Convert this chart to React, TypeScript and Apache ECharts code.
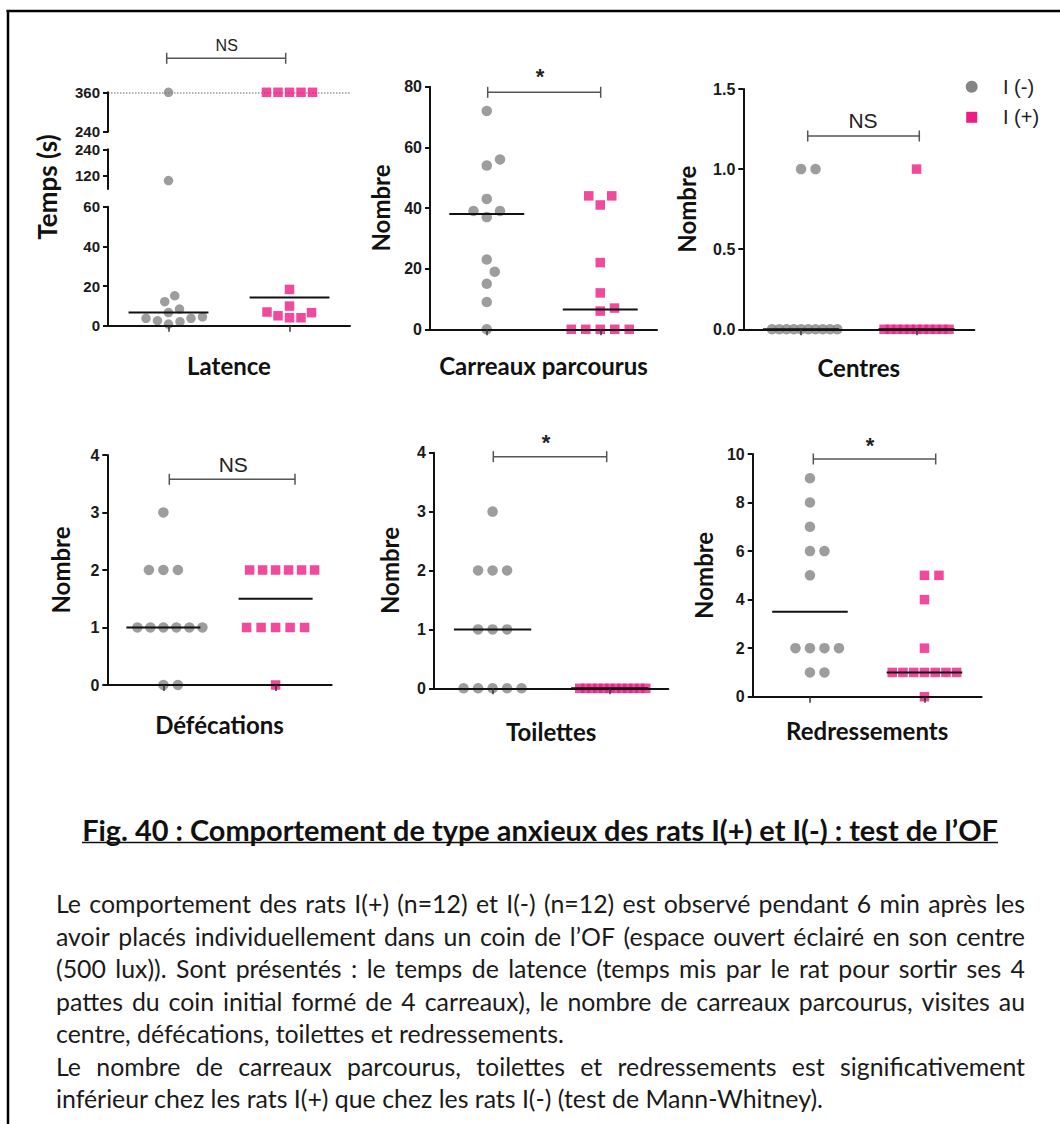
import React, { useEffect, useRef } from "react";
import * as echarts from "echarts";

// ---------------- data ----------------
const groupNames = ["I (-)", "I (+)"];
const categoryPositions = [1, 2];

const latenceNeg = [360, 98, 15.1, 12.1, 8.4, 6.6, 4.5, 3.7, 3.7, 2.5, 2.0, 0.8];
const latencePos = [360, 360, 360, 360, 360, 18.3, 9.9, 6.9, 6.6, 5.0, 4.0, 4.0];
const latenceMedians = [6.6, 14.2];
const latenceSegments = [
  [0, 60],
  [60, 240],
  [240, 360],
];

const carreauxNeg = [72, 56, 54, 43, 39, 39, 37, 23, 19, 15, 9, 0];
const carreauxPos = [44, 44, 41, 22, 12, 7, 6, 0, 0, 0, 0, 0];
const carreauxMedians = [38, 6.5];

const centresNeg = [1, 1, 0, 0, 0, 0, 0, 0, 0, 0, 0, 0];
const centresPos = [1, 0, 0, 0, 0, 0, 0, 0, 0, 0, 0, 0];
const centresMedians = [0, 0];

const defecNeg = [3, 2, 2, 2, 1, 1, 1, 1, 1, 1, 0, 0];
const defecPos = [2, 2, 2, 2, 2, 2, 1, 1, 1, 1, 1, 0];
const defecMedians = [1, 1.5];

const toilNeg = [3, 2, 2, 2, 1, 1, 1, 0, 0, 0, 0, 0];
const toilPos = [0, 0, 0, 0, 0, 0, 0, 0, 0, 0, 0, 0];
const toilMedians = [1, 0];

const redrNeg = [9, 8, 7, 6, 6, 5, 2, 2, 2, 2, 1, 1];
const redrPos = [5, 5, 4, 2, 1, 1, 1, 1, 1, 1, 1, 0];
const redrMedians = [3.5, 1];

const captionTitle =
  "Fig. 40 : Comportement de type anxieux des rats I(+) et I(-) : test de l’OF";
const captionLines = [
  "Le comportement des rats I(+) (n=12) et I(-) (n=12) est observé pendant 6 min après les",
  "avoir placés individuellement dans un coin de l’OF (espace ouvert éclairé en son centre",
  "(500 lux)). Sont présentés : le temps de latence (temps mis par le rat pour sortir ses 4",
  "pattes du coin initial formé de 4 carreaux), le nombre de carreaux parcourus, visites au",
  "centre, défécations, toilettes et redressements.",
  "Le nombre de carreaux parcourus, toilettes et redressements est significativement",
  "inférieur chez les rats I(+) que chez les rats I(-) (test de Mann-Whitney).",
];
const captionJustified = [true, true, true, true, false, true, false];

// ---------------- styles / layout ----------------
const COLORS = ["#858585", "#ee1d85"];
const AX_FONT = "'Liberation Sans', Arial, sans-serif";
const TXT_FONT = "Lato, 'Noto Sans', sans-serif";
const NAME_SIZE = 24;

type Rect = { left: number; top: number; width: number; height: number };

const latenceLayout = {
  left: 108,
  width: 242,
  segRects: [
    { top: 206.7, height: 119 },
    { top: 149.3, height: 39.7 },
    { top: 92.3, height: 39.4 },
  ],
  segTicks: [null, [120, 240], null] as (number[] | null)[],
  segInterval: [20, 60, 120],
};

const PANELS = [
  {
    title: "Carreaux parcourus", neg: carreauxNeg, pos: carreauxPos, med: carreauxMedians,
    min: 0, max: 80, interval: 20, decimals: 0,
    rect: { left: 430, top: 86.7, width: 227, height: 242.6 }, yNameGap: 38, xNameGap: 24,
    sig: "*", bracket: { x1: 487.7, x2: 600.7, y: 92.3 }, sigPos: { x: 540, y: 76.5 },
  },
  {
    title: "Centres", neg: centresNeg, pos: centresPos, med: centresMedians,
    min: 0, max: 1.5, interval: 0.5, decimals: 1,
    rect: { left: 743.3, top: 89, width: 231, height: 240.3 }, yNameGap: 45, xNameGap: 26,
    sig: "NS", bracket: { x1: 807.7, x2: 919.3, y: 136 }, sigPos: { x: 863, y: 120 },
  },
  {
    title: "Défécations", neg: defecNeg, pos: defecPos, med: defecMedians,
    min: 0, max: 4, interval: 1, decimals: 0,
    rect: { left: 107.3, top: 455, width: 224.4, height: 230 }, yNameGap: 35, xNameGap: 27,
    sig: "NS", bracket: { x1: 169.3, x2: 295, y: 479.3 }, sigPos: { x: 233.3, y: 464 },
  },
  {
    title: "Toilettes", neg: toilNeg, pos: toilPos, med: toilMedians,
    min: 0, max: 4, interval: 1, decimals: 0,
    rect: { left: 434, top: 452.7, width: 234.3, height: 235.6 }, yNameGap: 33, xNameGap: 31,
    sig: "*", bracket: { x1: 493.3, x2: 606.7, y: 456.7 }, sigPos: { x: 546, y: 442 },
  },
  {
    title: "Redressements", neg: redrNeg, pos: redrPos, med: redrMedians,
    min: 0, max: 10, interval: 2, decimals: 0,
    rect: { left: 752.7, top: 454, width: 229, height: 242.7 }, yNameGap: 37, xNameGap: 22,
    sig: "*", bracket: { x1: 813.3, x2: 935.7, y: 459 }, sigPos: { x: 870, y: 445 },
  },
];

// beeswarm layout in pixel space (offsets in px)
function swarm(pys: number[], D: number, maxRow: number): number[] {
  const n = pys.length;
  const idx = pys.map((_, i) => i).sort((a, b) => pys[b] - pys[a]);
  const counts = new Map<number, number>();
  pys.forEach((p) => {
    const k = Math.round(p * 100);
    counts.set(k, (counts.get(k) || 0) + 1);
  });
  const placed: { x: number; y: number; key: number }[] = [];
  const out = new Array(n).fill(0);
  for (const i of idx) {
    const y = pys[i];
    const key = Math.round(y * 100);
    const k = counts.get(key)!;
    const rowS = k > 1 ? Math.min(D, maxRow / (k - 1)) : D;
    for (let step = 0; step < 800; step++) {
      const mag = Math.ceil(step / 2) * 0.25;
      const x = step % 2 === 1 ? mag : -mag;
      const ok = placed.every((p) => {
        const need = p.key === key ? rowS : D;
        return Math.hypot(p.x - x, p.y - y) >= need - 1e-6;
      });
      if (ok) {
        out[i] = x;
        placed.push({ x, y, key });
        break;
      }
    }
  }
  return out;
}

function buildOption() {
  const grids: any[] = [];
  const xAxes: any[] = [];
  const yAxes: any[] = [];
  const series: any[] = [];
  const graphics: any[] = [];

  const nameStyle = { fontFamily: TXT_FONT, fontSize: NAME_SIZE, fontWeight: "bold", color: "#111" };

  function addAxes(rect: Rect, y: any, x: any) {
    const gi = grids.length;
    grids.push({ left: rect.left, top: rect.top, width: rect.width, height: rect.height });
    const xa: any = {
      gridIndex: gi, type: "value", min: 0.5, max: 2.5, show: x.show,
      axisLine: { show: true, onZero: false, lineStyle: { color: "#111", width: 2 } },
      axisTick: { show: true, customValues: categoryPositions, length: 6, lineStyle: { color: "#333", width: 1.5 } },
      axisLabel: { show: false },
      splitLine: { show: false },
      z: 5,
    };
    if (x.name) {
      xa.name = x.name;
      xa.nameLocation = "middle";
      xa.nameGap = x.nameGap;
      xa.nameTextStyle = nameStyle;
    }
    xAxes.push(xa);
    const ya: any = {
      gridIndex: gi, type: "value", min: y.min, max: y.max, interval: y.interval,
      axisLine: { show: true, onZero: false, lineStyle: { color: "#111", width: 2 } },
      axisTick: { show: true, length: 5, lineStyle: { color: "#111", width: 2 } },
      axisLabel: {
        fontFamily: AX_FONT, fontWeight: "bold", fontSize: y.fontSize, color: "#1a1a1a", margin: 8,
        formatter: (v: number) => v.toFixed(y.decimals),
      },
      splitLine: { show: false },
      z: 5,
    };
    if (y.custom) {
      ya.axisTick.customValues = y.custom;
      ya.axisLabel.customValues = y.custom;
    }
    if (y.name) {
      ya.name = y.name;
      ya.nameLocation = "middle";
      ya.nameGap = y.nameGap;
      ya.nameRotate = 90;
      ya.nameTextStyle = nameStyle;
    }
    yAxes.push(ya);
    return gi;
  }

  function medianSeries(gi: number, c: number, m: number) {
    series.push({
      type: "line", xAxisIndex: gi, yAxisIndex: gi, symbol: "none", silent: true, clip: false, z: 4,
      lineStyle: { color: "#111", width: 2 },
      data: [[c - 0.33, m], [c + 0.33, m]],
    });
  }

  function bracket(b: { x1: number; x2: number; y: number }, label: string, pos: { x: number; y: number }, size: number, bold: boolean) {
    const st = { stroke: "#555", lineWidth: 1.5 };
    graphics.push({ type: "line", shape: { x1: b.x1, y1: b.y, x2: b.x2, y2: b.y }, style: st });
    graphics.push({ type: "line", shape: { x1: b.x1, y1: b.y - 5.5, x2: b.x1, y2: b.y + 5.5 }, style: st });
    graphics.push({ type: "line", shape: { x1: b.x2, y1: b.y - 5.5, x2: b.x2, y2: b.y + 5.5 }, style: st });
    graphics.push({
      type: "text", x: pos.x, y: pos.y,
      style: {
        text: label, fontFamily: AX_FONT, fontSize: size, fontWeight: bold ? "bold" : "normal",
        fill: "#222", align: "center", verticalAlign: "middle", textAlign: "center", textVerticalAlign: "middle",
      },
    });
  }

  // ---- Latence (broken axis: 3 segments) ----
  const L = latenceLayout;
  const segGi: number[] = [];
  latenceSegments.forEach((seg, s) => {
    const r = { left: L.left, width: L.width, top: L.segRects[s].top, height: L.segRects[s].height };
    const gi = addAxes(
      r,
      { min: seg[0], max: seg[1], interval: L.segInterval[s], custom: L.segTicks[s], decimals: 0, fontSize: 15 },
      s === 0 ? { show: true, name: "Latence", nameGap: 28 } : { show: false }
    );
    segGi.push(gi);
  });
  const segOf = (v: number) => (v <= 60 ? 0 : v <= 240 ? 1 : 2);
  const latPx = (v: number) => {
    const s = segOf(v);
    const seg = latenceSegments[s];
    const r = L.segRects[s];
    return r.top + (r.height * (seg[1] - v)) / (seg[1] - seg[0]);
  };
  [latenceNeg, latencePos].forEach((vals, g) => {
    const offs = swarm(vals.map(latPx), 11.5, 46);
    for (let s = 0; s < 3; s++) {
      const pts = vals
        .map((v, i) => [categoryPositions[g] + (offs[i] * 2) / L.width, v, s === segOf(v)])
        .filter((p) => p[2])
        .map((p) => [p[0], p[1]]);
      if (!pts.length && !(g === 0 && s === 2)) continue;
      const ser: any = {
        type: "scatter", name: groupNames[g], xAxisIndex: segGi[s], yAxisIndex: segGi[s],
        symbol: g === 0 ? "circle" : "rect", symbolSize: 9.5, clip: false, z: 3,
        itemStyle: { color: COLORS[g] }, data: pts,
      };
      if (g === 0 && s === 2) {
        ser.markLine = {
          silent: true, symbol: "none", label: { show: false }, z: 1,
          lineStyle: { type: "dotted", color: "#999", width: 1.5 },
          data: [{ yAxis: 360 }],
        };
      }
      series.push(ser);
    }
    medianSeries(segGi[0], categoryPositions[g], latenceMedians[g]);
  });
  bracket({ x1: 166.7, x2: 285.7, y: 58.3 }, "NS", { x: 226.7, y: 45 }, 16, false);
  graphics.push({
    type: "text", x: 47, y: 187, rotation: Math.PI / 2,
    style: {
      text: "Temps (s)", fontFamily: TXT_FONT, fontSize: 26, fontWeight: "bold", fill: "#111",
      align: "center", verticalAlign: "middle", textAlign: "center", textVerticalAlign: "middle",
    },
  });

  // ---- other panels ----
  PANELS.forEach((p) => {
    const gi = addAxes(
      p.rect,
      { min: p.min, max: p.max, interval: p.interval, decimals: p.decimals, fontSize: 16, name: "Nombre", nameGap: p.yNameGap },
      { show: true, name: p.title, nameGap: p.xNameGap }
    );
    const pyOf = (v: number) => p.rect.top + (p.rect.height * (p.max - v)) / (p.max - p.min);
    [p.neg, p.pos].forEach((vals, g) => {
      const offs = swarm(vals.map(pyOf), 14.5, 64);
      series.push({
        type: "scatter", name: groupNames[g], xAxisIndex: gi, yAxisIndex: gi,
        symbol: g === 0 ? "circle" : "rect", symbolSize: g === 0 ? 10.5 : 9.5, clip: false, z: 3,
        itemStyle: { color: COLORS[g] },
        data: vals.map((v, i) => [categoryPositions[g] + (offs[i] * 2) / p.rect.width, v]),
      });
      medianSeries(gi, categoryPositions[g], p.med[g]);
    });
    bracket(p.bracket, p.sig, p.sigPos, p.sig === "*" ? 22 : 21, p.sig === "*");
  });

  // ---- legend ----
  graphics.push({ type: "circle", shape: { cx: 971.7, cy: 86.7, r: 6 }, style: { fill: COLORS[0] } });
  graphics.push({ type: "rect", shape: { x: 966.2, y: 111.8, width: 11, height: 11 }, style: { fill: COLORS[1] } });
  groupNames.forEach((n, i) => {
    graphics.push({
      type: "text", x: 1003, y: 86.7 + i * 30.6,
      style: { text: n, fontFamily: AX_FONT, fontSize: 20, fill: "#222", align: "left", verticalAlign: "middle", textAlign: "left", textVerticalAlign: "middle" },
    });
  });

  // ---- frame ----
  graphics.push({ type: "line", shape: { x1: 6.5, y1: 11, x2: 1060, y2: 11 }, style: { stroke: "#000", lineWidth: 2.5 } });
  graphics.push({ type: "line", shape: { x1: 8, y1: 10, x2: 8, y2: 1124 }, style: { stroke: "#000", lineWidth: 2.5 } });

  // ---- caption ----
  const ctx = document.createElement("canvas").getContext("2d")!;
  const measure = (t: string, size: number, weight: string) => {
    ctx.font = `${weight} ${size}px Lato`;
    return ctx.measureText(t).width;
  };
  const titleSize = (24 * 916) / measure(captionTitle, 24, "bold");
  graphics.push({
    type: "text", x: 540, y: 829,
    style: {
      text: captionTitle, fontFamily: "Lato", fontSize: titleSize, fontWeight: "bold", fill: "#111",
      align: "center", verticalAlign: "middle", textAlign: "center", textVerticalAlign: "middle",
    },
  });
  graphics.push({ type: "line", shape: { x1: 82, y1: 842.5, x2: 998, y2: 842.5 }, style: { stroke: "#111", lineWidth: 1.5 } });

  const bodySize = (20 * 768) / measure(captionLines[6], 20, "normal");
  const bodyLeft = 56;
  const bodyWidth = 969;
  captionLines.forEach((line, li) => {
    const y = 903 + li * 32.5;
    const baseStyle = { fontFamily: "Lato", fontSize: bodySize, fill: "#1a1a1a", align: "left", verticalAlign: "middle", textAlign: "left", textVerticalAlign: "middle" };
    if (!captionJustified[li]) {
      graphics.push({ type: "text", x: bodyLeft, y, style: { ...baseStyle, text: line } });
      return;
    }
    const words = line.split(" ");
    const widths = words.map((w) => measure(w, bodySize, "normal"));
    const total = widths.reduce((a, b) => a + b, 0);
    const gap = (bodyWidth - total) / (words.length - 1);
    let cx = bodyLeft;
    words.forEach((w, wi) => {
      graphics.push({ type: "text", x: cx, y, style: { ...baseStyle, text: w } });
      cx += widths[wi] + gap;
    });
  });

  return {
    animation: false,
    backgroundColor: "#ffffff",
    grid: grids,
    xAxis: xAxes,
    yAxis: yAxes,
    series,
    graphic: graphics,
  };
}

export default function App() {
  const ref = useRef<HTMLDivElement>(null);
  useEffect(() => {
    document.body.style.margin = "0";
    if (!ref.current) return;
    const chart = echarts.init(ref.current, undefined, { renderer: "svg" });
    chart.setOption(buildOption() as any);
    return () => chart.dispose();
  }, []);
  return <div ref={ref} style={{ width: 1060, height: 1124 }} />;
}
